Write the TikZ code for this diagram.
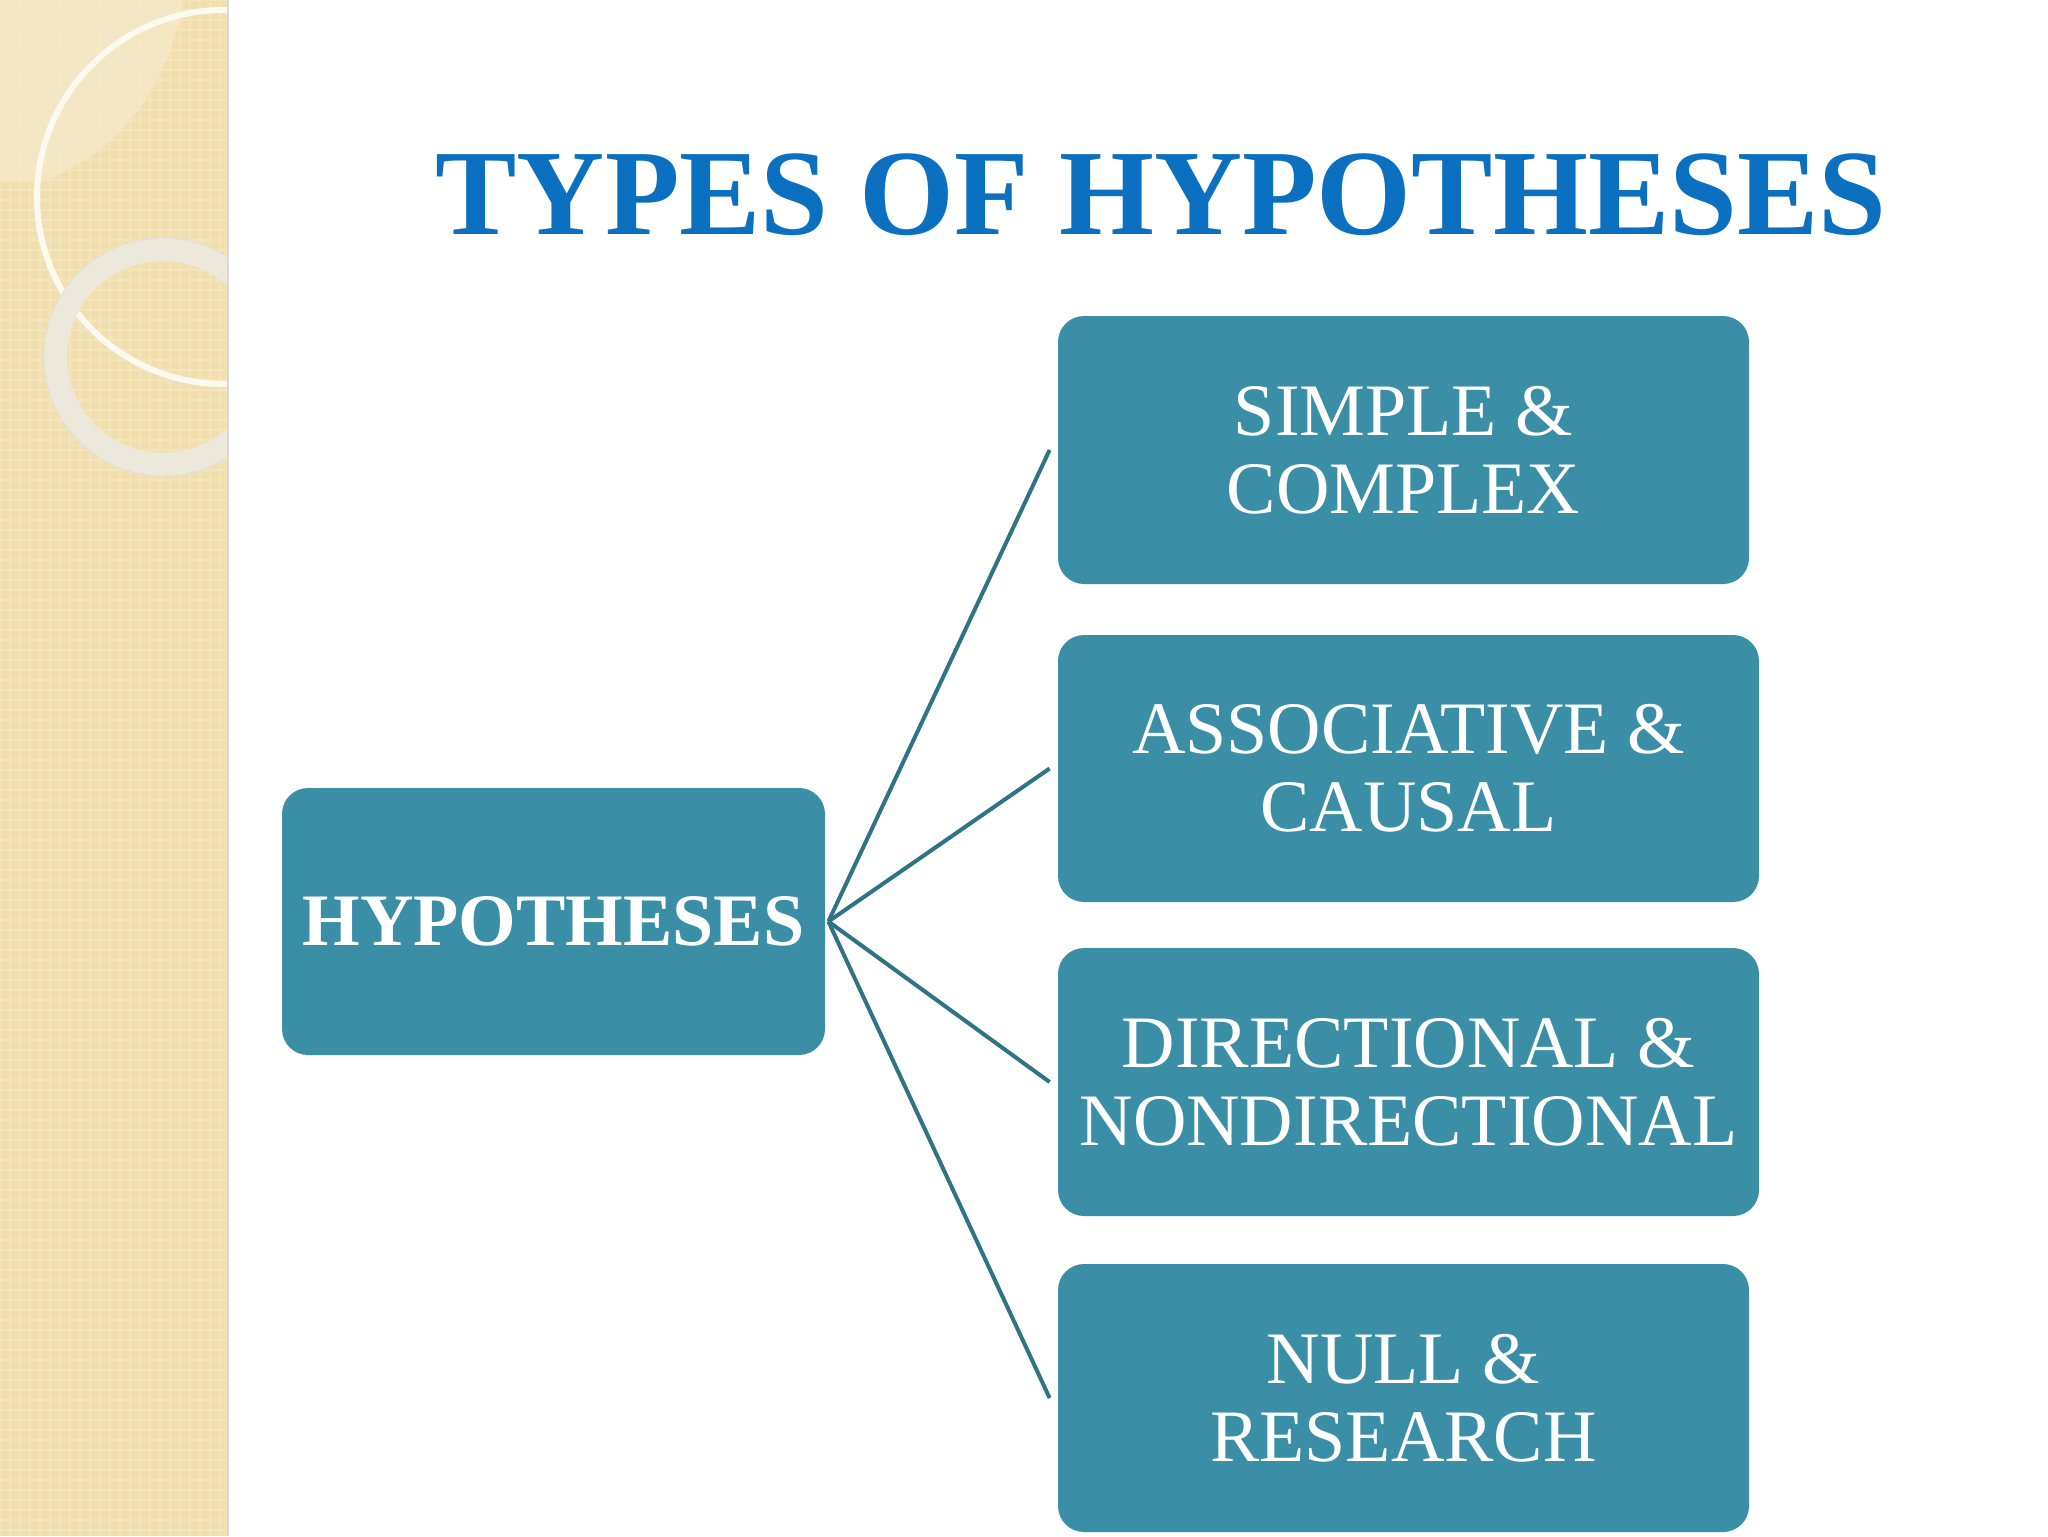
\documentclass[tikz,border=0pt]{standalone}
\usepackage{fontspec}
\setmainfont{Liberation Serif}
\definecolor{boxfill}{HTML}{3A8FA7}
\definecolor{linecol}{HTML}{2E7386}
\definecolor{titleblue}{HTML}{0C70C0}
\definecolor{beige}{HTML}{F1DFAE}
\definecolor{beigelight}{HTML}{F6EACB}
\definecolor{gridcol}{HTML}{F4E5BC}
\definecolor{ringcol}{HTML}{ECE8DC}
\begin{document}
\begin{tikzpicture}[x=0.5pt,y=-0.5pt,
  catbox/.style={fill=boxfill, draw=none, rounded corners=13pt, text=white,
    align=center, font=\fontsize{37}{39}\selectfont, inner sep=0pt},
  conn/.style={draw=linecol, line width=2pt}]
\useasboundingbox (0,0) rectangle (2048,1536);
\fill[white] (0,0) rectangle (2048,1536);
% left decorative strip
\begin{scope}
  \clip (0,0) rectangle (228,1536);
  \fill[beige] (0,0) rectangle (228,1536);
  \draw[gridcol, line width=1.2pt] (0,0) grid[step=5pt] (228,1536);
  \fill[beigelight, opacity=0.7] (0,0) -- (183,0) .. controls (170,90) and (110,160) .. (40,182) -- (0,182) -- cycle;
  \draw[black!10, line width=0.4pt] (224,197) circle[radius=95pt];
  \draw[white!80!beige, line width=3pt] (224,197) circle[radius=93.5pt];
  \draw[ringcol, line width=11.5pt] (163,357) circle[radius=53.75pt];
  \draw[black!12, line width=0.4pt] (163,357) circle[radius=59.5pt];
\end{scope}
\draw[black!15, line width=1pt] (228,0) -- (228,1536);
% title
\node (title) [text=titleblue, font=\fontsize{61}{61}\selectfont\bfseries, anchor=base] at (1161,234) {TYPES OF HYPOTHESES};
% boxes
\node (hyp) [catbox, minimum width=271.5pt, minimum height=133.5pt, font=\fontsize{37}{39}\selectfont\bfseries] at (553.5,921.5) {HYPOTHESES};
\node (b1) [catbox, minimum width=345.5pt, minimum height=134pt] at (1403.5,450) {SIMPLE \&\\COMPLEX};
\node (b2) [catbox, minimum width=350.5pt, minimum height=133.5pt] at (1408.5,768.5) {ASSOCIATIVE \&\\CAUSAL};
\node (b3) [catbox, minimum width=350.5pt, minimum height=134pt] at (1408.5,1082) {DIRECTIONAL \&\\NONDIRECTIONAL};
\node (b4) [catbox, minimum width=345.5pt, minimum height=134pt] at (1403.5,1398) {NULL \&\\RESEARCH};
% connectors
\coordinate (hubR) at ([xshift=1.5pt]hyp.east);
\foreach \b in {b1,b2,b3,b4}
  \draw[conn] (hubR) -- ([xshift=-4pt]\b.west);
\end{tikzpicture}
\end{document}
